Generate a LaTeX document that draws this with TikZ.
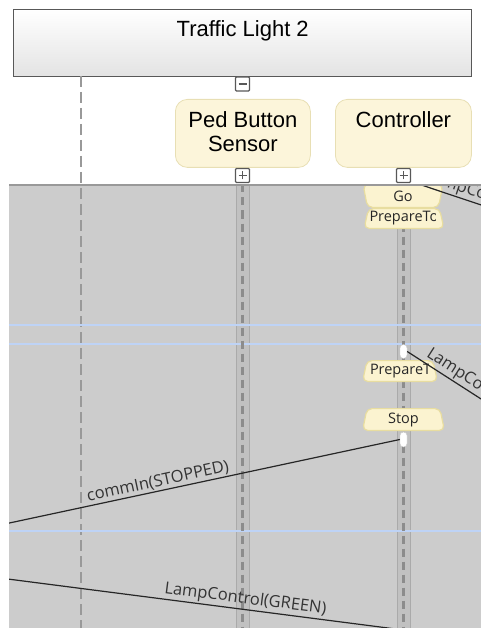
\documentclass[tikz,border=0pt]{standalone}
\usepackage{fontspec}
\setmainfont{Liberation Sans}
\newfontfamily\msgfont{Open Sans}
\usepackage{tikz}
\definecolor{framec}{RGB}{88,88,88}
\definecolor{headc}{RGB}{252,245,218}
\definecolor{headedge}{RGB}{232,223,180}
\definecolor{canvasc}{RGB}{204,204,204}
\definecolor{barc}{RGB}{193,193,193}
\definecolor{baredge}{RGB}{170,170,170}
\definecolor{dashc}{RGB}{140,140,140}
\definecolor{lanec}{RGB}{190,211,246}
\definecolor{statec}{RGB}{251,243,208}
\definecolor{stateedge}{RGB}{232,221,160}
\tikzset{
  system/.style   = {draw=framec, line width=1.4pt, top color=white, bottom color=black!11,
                     anchor=north west, inner sep=0pt, font=\fontsize{22}{24}\selectfont},
  part/.style     = {draw=headedge, line width=0.8pt, fill=headc, rounded corners=12pt,
                     anchor=north west, inner sep=0pt, minimum height=68pt,
                     font=\fontsize{22}{24}\selectfont},
  toggle/.style   = {draw=framec, line width=1.2pt, fill=white, rounded corners=1pt,
                     minimum size=14pt, inner sep=0pt},
  collapse/.style = {toggle, path picture={
                     \draw[framec, line width=1.3pt] ([xshift=-4pt]path picture bounding box.center)
                       -- ([xshift=4pt]path picture bounding box.center);}},
  expand/.style   = {toggle, path picture={
                     \draw[framec, line width=1.3pt] ([xshift=-4pt]path picture bounding box.center)
                       -- ([xshift=4pt]path picture bounding box.center);
                     \draw[framec, line width=1.3pt] ([yshift=-4pt]path picture bounding box.center)
                       -- ([yshift=4pt]path picture bounding box.center);}},
  canvasbg/.style = {fill=canvasc, anchor=north west, inner sep=0pt},
  lifebar/.style  = {fill=barc, draw=baredge, line width=1pt, minimum width=13pt, inner sep=0pt},
  life/.style     = {dashc, line width=2.5pt, dash pattern=on 8pt off 5pt},
  envlife/.style  = {black!40, line width=2pt, dash pattern=on 11pt off 5pt},
  lane/.style     = {lanec, line width=2pt},
  stateface/.style= {draw=stateedge, fill=statec, line width=1.2pt, rounded corners=5pt},
  statebox/.style = {inner sep=0pt, font=\msgfont\fontsize{14.5}{16}\selectfont, text=black!85,
                     path picture={\path[stateface]
                       ([xshift=0.6pt, yshift=0.6pt]path picture bounding box.south west)
                       -- ([xshift=5pt, yshift=-0.6pt]path picture bounding box.north west)
                       -- ([xshift=-5pt, yshift=-0.6pt]path picture bounding box.north east)
                       -- ([xshift=-0.6pt, yshift=0.6pt]path picture bounding box.south east) -- cycle;}},
  statecup/.style = {inner sep=0pt, font=\msgfont\fontsize{14.5}{16}\selectfont, text=black!85,
                     path picture={\path[stateface]
                       ([xshift=0.6pt, yshift=-0.6pt]path picture bounding box.north west)
                       -- ([xshift=5pt, yshift=0.6pt]path picture bounding box.south west)
                       -- ([xshift=-5pt, yshift=0.6pt]path picture bounding box.south east)
                       -- ([xshift=-0.6pt, yshift=-0.6pt]path picture bounding box.north east) -- cycle;}},
  statetxt/.style = {font=\msgfont\fontsize{14.5}{16}\selectfont, text=black!85, inner sep=0pt},
  act/.style      = {fill=white, draw=black!20, line width=0.4pt, rounded corners=3.5pt,
                     minimum width=7pt, inner sep=0pt},
  msg/.style      = {black!85, line width=1.2pt},
  msglbl/.style   = {font=\msgfont\fontsize{16.5}{18}\selectfont, text=black!80, inner sep=1.5pt},
}
\begin{document}
\begin{tikzpicture}[x=1pt, y=-1pt]
\useasboundingbox (0,0) rectangle (481,628);

% heads: composite part, its toggle, the two inner parts
\node[system, minimum width=458pt, text height=27pt, text depth=40pt] (system) at (13,9) {Traffic Light 2};
\node[collapse] (sysminus) at (242.5,84) {};
\node[part, align=center, minimum width=135pt] (pedbtn) at (175,99) {Ped Button\\Sensor\rule[-4pt]{0pt}{0pt}};
\node[part, minimum width=136pt, text height=28pt, text depth=40pt] (ctrl) at (335,99) {Controller};
\node[expand] (pedplus) at (242.5,175.5) {};
\node[expand] (ctrlplus) at (403.5,175.5) {};

% grey interaction area
\node[canvasbg, minimum width=472pt, minimum height=443pt] (canvas) at (9,185) {};

\coordinate (envtop) at (81,76);
\coordinate (envbot) at (81,628);
\coordinate (ctrlhi) at (403.5,179);
\coordinate (rightA) at (520,218);
\coordinate (rightB) at (520,424);
\coordinate (leftA) at (0,525);
\coordinate (leftB) at (0,578);
\coordinate (ctrllow) at (403.5,630);

\draw[envlife] (envtop) -- (envbot);

\begin{scope}
\clip (canvas.north west) rectangle (canvas.south east);

\node[lifebar, minimum height=450pt] (pedbar) at (242.5,410) {};
\node[lifebar, minimum height=450pt] (ctrlbar) at (403.5,410) {};

\foreach \yy in {325,344,531}
  \draw[lane] (9,\yy) -- (481,\yy);

\draw[life] (pedbar.north) -- (pedbar.south);
\draw[life] (ctrlbar.north) -- (ctrlbar.south);

% states on the controller lifeline
\node[statecup, minimum width=81pt, minimum height=24pt] (go) at (403,196) {Go};
\node[statebox, minimum width=81pt, minimum height=21pt] (prepgo) at (404,218.5) {};
\begin{scope}
  \clip (prepgo.south west) rectangle ([xshift=-9pt]prepgo.north east);
  \node[statetxt, anchor=west] (prepgotxt) at ([xshift=6pt]prepgo.west) {PrepareTo};
\end{scope}
\node[statebox, minimum width=76pt, minimum height=22pt] (prepstop) at (400,371) {};
\begin{scope}
  \clip (prepstop.south west) rectangle ([xshift=-10pt]prepstop.north east);
  \node[statetxt, anchor=west] (prepstoptxt) at ([xshift=8pt]prepstop.west) {PrepareTo};
\end{scope}
\node[statebox, minimum width=83pt, minimum height=23pt] (stop) at (403.5,419.5) {Stop};

\node[act, minimum height=14pt] (actA) at (403.5,351.5) {};
\node[act, minimum height=15pt] (actB) at (403.5,439.5) {};

% messages
\draw[msg] (ctrlhi) -- node[msglbl, sloped, anchor=south west, pos=0.145] {LampCo} (rightA);
\draw[msg] (actA.east) -- node[msglbl, sloped, anchor=south west, pos=0.12] {LampCo} (rightB);
\draw[msg] (leftA) -- node[msglbl, above, sloped, pos=0.4] {commIn(STOPPED)} (actB.west);
\draw[msg] (leftB) -- node[msglbl, above, sloped, pos=0.605] {LampControl(GREEN)} (ctrllow);
\end{scope}

\draw[black!40, line width=1.5pt] (canvas.north west) -- (canvas.north east);

\end{tikzpicture}
\end{document}
